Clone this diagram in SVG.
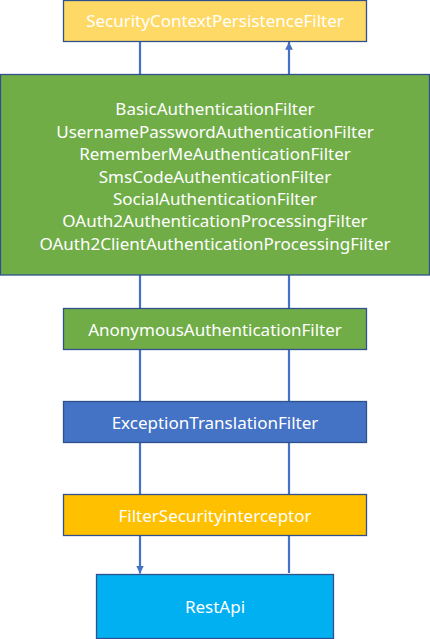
<svg xmlns="http://www.w3.org/2000/svg" width="430" height="639" viewBox="0 0 430 639">
<defs>
<style>
.box{stroke:#2F528F;stroke-width:1.3}
.t{font-family:"Noto Sans","Liberation Sans",sans-serif;font-size:17px;fill:#FFFFFF;text-anchor:middle}
.c{stroke:#4472C4;stroke-width:2.2;fill:none}
</style>
<marker id="ah" viewBox="0 0 10 10" refX="10" refY="5" markerWidth="3.5" markerHeight="3.5" orient="auto" markerUnits="strokeWidth">
<path d="M0,0 L10,5 L0,10 z" fill="#4472C4"/>
</marker>
</defs>
<rect width="430" height="639" fill="#FFFFFF"/>
<g id="connectors">
<line class="c" x1="140" y1="41.5" x2="140" y2="74.5"/>
<line class="c" x1="289" y1="74.5" x2="289" y2="42" marker-end="url(#ah)"/>
<line class="c" x1="140" y1="275" x2="140" y2="308.5"/>
<line class="c" x1="289" y1="275" x2="289" y2="308.5"/>
<line class="c" x1="140" y1="349.5" x2="140" y2="401.5"/>
<line class="c" x1="289" y1="349.5" x2="289" y2="401.5"/>
<line class="c" x1="140" y1="442.5" x2="140" y2="494.5"/>
<line class="c" x1="289" y1="442.5" x2="289" y2="494.5"/>
<line class="c" x1="140" y1="535.5" x2="140" y2="573.5" marker-end="url(#ah)"/>
<line class="c" x1="289" y1="535.5" x2="289" y2="573"/>
</g>
<g id="securityContextPersistenceFilter">
<rect class="box" x="63.5" y="0.5" width="303" height="41" fill="#FFD966"/>
<text class="t" x="215" y="27">SecurityContextPersistenceFilter</text>
</g>
<g id="authenticationFilters">
<rect class="box" x="0.5" y="74.5" width="429" height="200.5" fill="#70AD47"/>
<text class="t" x="215" y="115">BasicAuthenticationFilter</text>
<text class="t" x="215" y="137.5">UsernamePasswordAuthenticationFilter</text>
<text class="t" x="215" y="160">RememberMeAuthenticationFilter</text>
<text class="t" x="215" y="182.5">SmsCodeAuthenticationFilter</text>
<text class="t" x="215" y="205">SocialAuthenticationFilter</text>
<text class="t" x="215" y="227">OAuth2AuthenticationProcessingFilter</text>
<text class="t" x="215" y="249.5">OAuth2ClientAuthenticationProcessingFilter</text>
</g>
<g id="anonymousAuthenticationFilter">
<rect class="box" x="63.5" y="308.5" width="303" height="41" fill="#70AD47"/>
<text class="t" x="215" y="336">AnonymousAuthenticationFilter</text>
</g>
<g id="exceptionTranslationFilter">
<rect class="box" x="63.5" y="401.5" width="303" height="41" fill="#4472C4"/>
<text class="t" x="215" y="429">ExceptionTranslationFilter</text>
</g>
<g id="filterSecurityInterceptor">
<rect class="box" x="63.5" y="494.5" width="303" height="41" fill="#FFC000"/>
<text class="t" x="215" y="521.5">FilterSecurityinterceptor</text>
</g>
<g id="restApi">
<rect class="box" x="96.5" y="574.5" width="237" height="64" fill="#00B0F0"/>
<text class="t" x="215" y="613">RestApi</text>
</g>
</svg>
